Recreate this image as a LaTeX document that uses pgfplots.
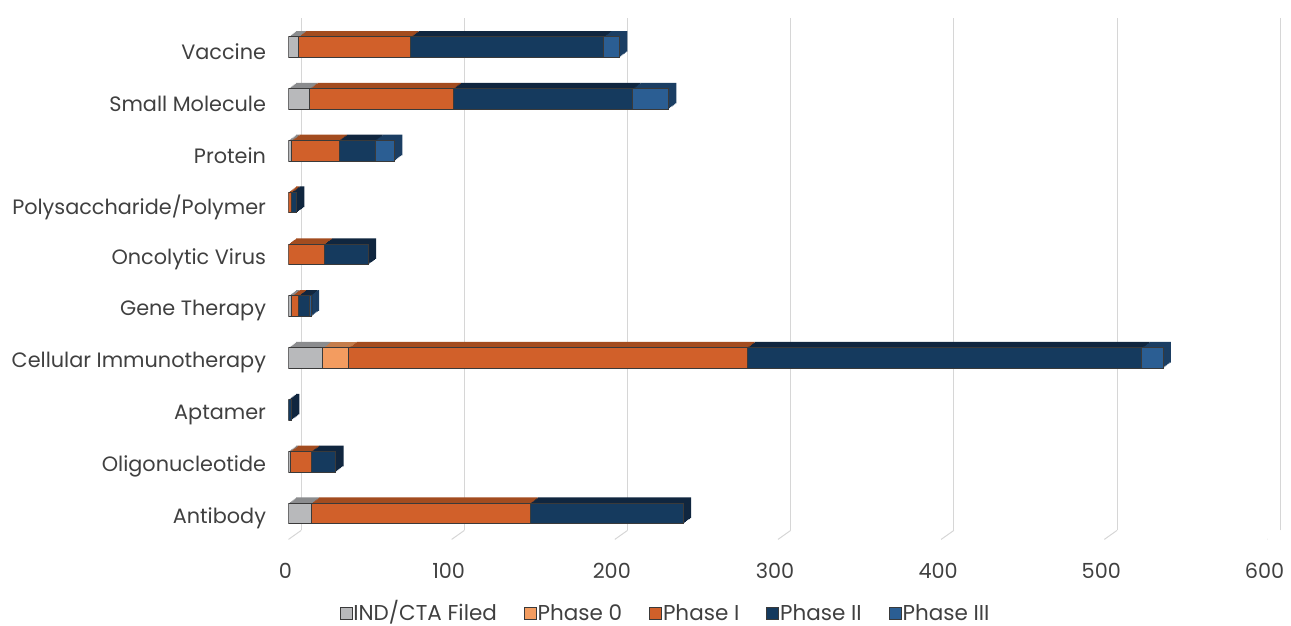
\documentclass[border=0pt]{standalone}
\usepackage{pgfplots}
\usepackage{pgfplotstable}
\pgfplotsset{compat=1.18}
\usepackage{fontspec}
\setmainfont{Poppins}
\definecolor{gIND}{HTML}{B8B9BB}
\definecolor{tIND}{HTML}{8B8C8E}
\definecolor{gP0}{HTML}{F39C60}
\definecolor{tP0}{HTML}{C47D4C}
\definecolor{gP1}{HTML}{D1602A}
\definecolor{tP1}{HTML}{A34C1F}
\definecolor{gP2}{HTML}{153A5E}
\definecolor{tP2}{HTML}{10263F}
\definecolor{gP3}{HTML}{2B5E93}
\definecolor{tP3}{HTML}{1B3E63}
\definecolor{edge}{HTML}{3A3A3A}
\definecolor{gridc}{HTML}{D6D6D6}
\definecolor{txt}{HTML}{404040}

\pgfplotstableread{
idx ind p0 p1 p2 p3
0 14 0 134 94 0
1 1 0 13 15 0
2 0 0 0 2 0
3 21 16 244 242 13
4 2 0 4 7 1
5 0 0 22 27 0
6 0 0 2 3 0
7 2 0 29 22 12
8 13 0 88 110 22
9 6 0 69 118 10
}\data

\pgfplotsset{base/.style={
  scale only axis, width=979bp, height=518.3bp,
  xmin=0, xmax=600, ymin=-0.5, ymax=9.5,
  xbar stacked, bar width=20.6bp,
}}
\newcommand{\lblfont}{\fontsize{20.8bp}{25bp}\selectfont}
\newcommand{\legfont}{\fontsize{21.5bp}{25bp}\selectfont}

\begin{document}
\begin{tikzpicture}
\useasboundingbox (-288.5bp,-86.6bp) rectangle (1002.5bp,539.4bp);
% back wall grid
\begin{axis}[
  scale only axis, width=979bp, height=512.4bp,
  xmin=0, xmax=600, ymin=0, ymax=1,
  xshift=12.7bp, yshift=9bp,
  axis line style={draw=none}, major tick length=0pt,
  xtick={0,100,...,600}, xticklabels={}, ytick=\empty,
  xmajorgrids, major grid style={gridc, line width=1bp},
]
\addplot[draw=none] coordinates {(0,0)};
\end{axis}
% depth copies
\foreach \k in {6,5,4,3,2,1}{
\pgfmathsetmacro\dxk{\k*7.7/6}
\pgfmathsetmacro\dyk{\k*5.7/6}
\begin{axis}[base, hide axis, xshift=\dxk bp, yshift=\dyk bp]
\addplot[fill=tIND, draw=none] table[x=ind, y=idx]{\data};
\addplot[fill=tP0, draw=none] table[x=p0, y=idx]{\data};
\addplot[fill=tP1, draw=none] table[x=p1, y=idx]{\data};
\addplot[fill=tP2, draw=none] table[x=p2, y=idx]{\data};
\addplot[fill=tP3, draw=none] table[x=p3, y=idx]{\data};
\end{axis}
}
% front faces
\begin{axis}[base,
  axis line style={draw=none}, major tick length=0pt,
  ytick={0,...,9},
  yticklabels={Antibody, Oligonucleotide, Aptamer, Cellular Immunotherapy, Gene Therapy, Oncolytic Virus, Polysaccharide/Polymer, Protein, Small Molecule, Vaccine},
  xtick={0,100,...,600},
  /pgf/number format/assume math mode=true,
  tick label style={font=\lblfont, text=txt},
  yticklabel style={anchor=east, xshift=-19bp, yshift=-4.7bp},
  xticklabel style={anchor=center, yshift=-31bp, xshift=-3bp},
  legend style={at={(0.3846,-0.143)}, anchor=center, draw=none, fill=none,
    font=\legfont, text=txt, legend columns=5,
    /tikz/every even column/.append style={column sep=26bp},
    nodes={inner sep=1bp, text height=16bp, text depth=3bp}},
  legend cell align=left,
  legend image code/.code={\draw[#1, draw=edge, line width=0.8bp] (0bp,-6bp) rectangle (12bp,6bp);},
]
\addplot[fill=gIND, draw=edge, line width=0.9bp] table[x=ind, y=idx]{\data};
\addplot[fill=gP0, draw=edge, line width=0.9bp] table[x=p0, y=idx]{\data};
\addplot[fill=gP1, draw=edge, line width=0.9bp] table[x=p1, y=idx]{\data};
\addplot[fill=gP2, draw=edge, line width=0.9bp] table[x=p2, y=idx]{\data};
\addplot[fill=gP3, draw=edge, line width=0.9bp] table[x=p3, y=idx]{\data};
\legend{IND/CTA Filed, Phase 0, Phase I, Phase II, Phase III}
\foreach \v in {0,100,200,300,400,500,600}{
  \edef\tmp{\noexpand\draw[gridc, line width=1bp] (axis cs:\v,-0.5) -- ++(12.7bp,9bp);}\tmp
}
\end{axis}
\end{tikzpicture}
\end{document}
